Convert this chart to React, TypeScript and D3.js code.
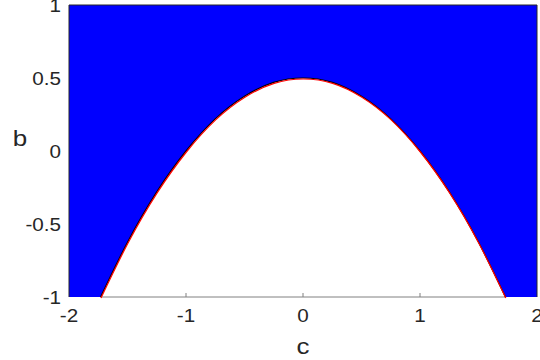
import React, { useEffect, useRef } from 'react';
import * as d3 from 'd3';

// values
const cValues = [-1.73, -1.5, -1.25, -1, -0.75, -0.5, -0.25, 0, 0.25, 0.5, 0.75, 1, 1.25, 1.5, 1.73];
const bValues = [-1, -0.625, -0.28, 0, 0.22, 0.375, 0.47, 0.5, 0.47, 0.375, 0.22, 0, -0.28, -0.625, -1];
const xTicks = [-2, -1, 0, 1, 2];
const yTicks = [-1, -0.5, 0, 0.5, 1];
const xLabel = 'c';
const yLabel = 'b';

export default function App() {
  const ref = useRef<SVGSVGElement>(null);

  useEffect(() => {
    const w = 540, h = 360;
    const left = 69, right = 537, top = 5, bottom = 297;
    const svg = d3.select(ref.current);
    svg.selectAll('*').remove();

    const x = d3.scaleLinear().domain([-2, 2]).range([left, right]);
    const y = d3.scaleLinear().domain([-1, 1]).range([bottom, top]);
    const pts = cValues.map((c, i) => [c, bValues[i]] as [number, number]);
    const font = 'Liberation Sans, Arial, sans-serif';
    const stretch = 1.18;

    // blue region = whole box minus area under curve
    svg.append('rect')
      .attr('x', left).attr('y', top)
      .attr('width', right - left).attr('height', bottom - top)
      .attr('fill', '#0000ff');

    const area = d3.area<[number, number]>()
      .x(d => x(d[0])).y0(y(-1)).y1(d => y(d[1]))
      .curve(d3.curveNatural);
    svg.append('path').datum(pts)
      .attr('d', area)
      .attr('fill', '#fff');

    // bottom axis line + inward ticks, only seen in the white part
    const c0 = cValues[0], c1 = cValues[cValues.length - 1];
    svg.append('line')
      .attr('x1', x(c0)).attr('x2', x(c1))
      .attr('y1', bottom).attr('y2', bottom)
      .attr('stroke', '#808080').attr('stroke-width', 1);
    svg.selectAll('.xt').data(xTicks.filter(t => t > c0 && t < c1)).enter().append('line')
      .attr('x1', d => x(d)).attr('x2', d => x(d))
      .attr('y1', bottom).attr('y2', bottom - 4)
      .attr('stroke', '#808080');

    const line = d3.line<[number, number]>()
      .x(d => x(d[0])).y(d => y(d[1]))
      .curve(d3.curveNatural);
    // black patch edge
    svg.append('path').datum(pts)
      .attr('d', line)
      .attr('fill', 'none').attr('stroke', '#000').attr('stroke-width', 1.2);
    // red curve, sits just under the edge
    svg.append('path').datum(pts)
      .attr('d', line)
      .attr('transform', 'translate(0.4,1)')
      .attr('fill', 'none').attr('stroke', '#ff0000').attr('stroke-width', 1.2);

    // box
    svg.append('path')
      .attr('d', `M${left},${bottom}V${top}H${right}V${bottom}`)
      .attr('fill', 'none').attr('stroke', '#262626').attr('stroke-width', 1);

    // tick labels
    svg.selectAll('.xl').data(xTicks).enter().append('text')
      .attr('transform', d => `translate(${x(d)},${bottom + 25}) scale(${stretch},1)`)
      .attr('text-anchor', 'middle')
      .style('font-family', font).style('font-size', '17.5px').style('fill', '#262626')
      .text(d => String(d));
    svg.selectAll('.yl').data(yTicks).enter().append('text')
      .attr('transform', d => `translate(${left - 8},${y(d) + 6.5}) scale(${stretch},1)`)
      .attr('text-anchor', 'end')
      .style('font-family', font).style('font-size', '17.5px').style('fill', '#262626')
      .text(d => String(d));

    // axis labels
    svg.append('text')
      .attr('transform', `translate(${x(0)},${h - 6}) scale(${stretch},1)`)
      .attr('text-anchor', 'middle')
      .style('font-family', font).style('font-size', '22px').style('fill', '#262626')
      .text(xLabel);
    svg.append('text')
      .attr('transform', `translate(20,146) scale(${stretch},1)`)
      .attr('text-anchor', 'middle')
      .style('font-family', font).style('font-size', '22px').style('fill', '#262626')
      .text(yLabel);

    svg.attr('width', w).attr('height', h);
  }, []);

  return (
    <svg ref={ref} width={540} height={360}
      style={{ position: 'absolute', left: 0, top: 0, background: '#fff' }} />
  );
}
